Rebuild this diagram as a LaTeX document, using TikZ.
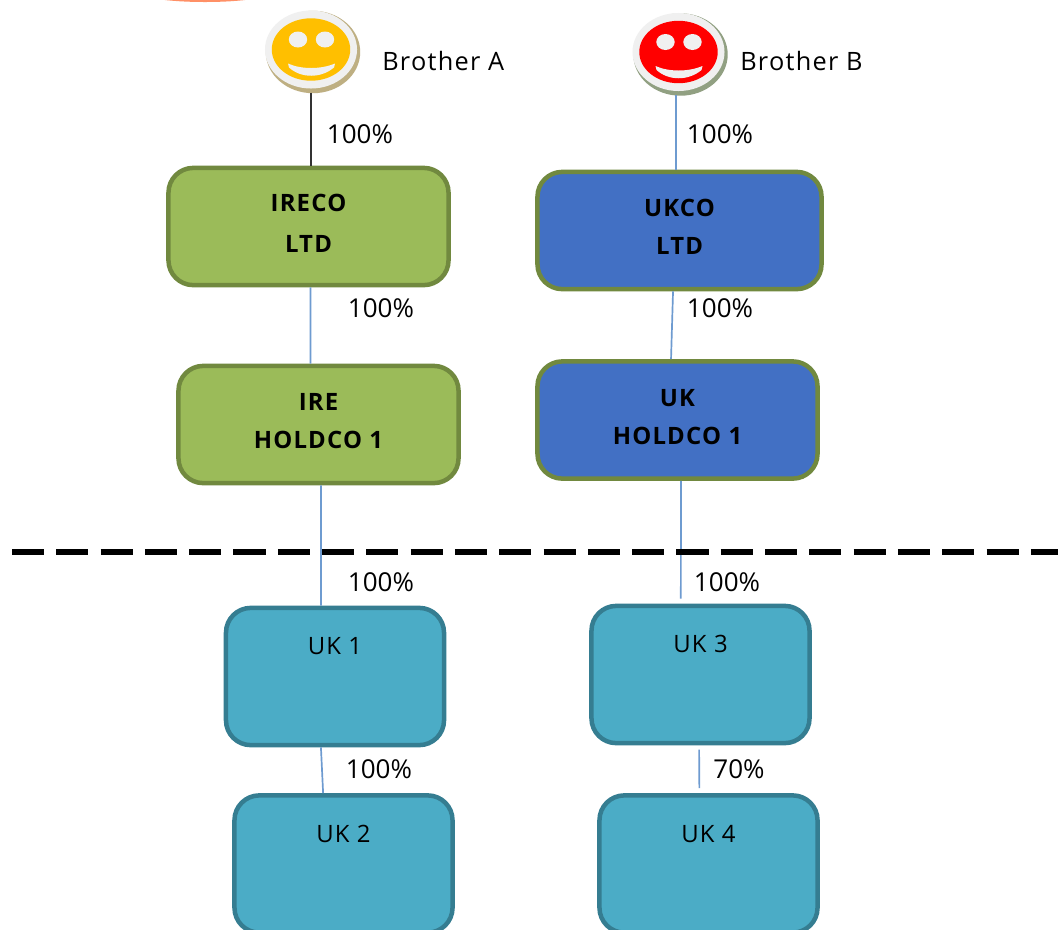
\documentclass[tikz,border=0pt]{standalone}
\usepackage{fontspec}
\setmainfont{Open Sans}
\newfontfamily\spacedfont[LetterSpace=5]{Open Sans}
\usepackage{xcolor}
\usetikzlibrary{shapes.geometric, positioning}
\definecolor{olivefill}{RGB}{155, 187, 89}
\definecolor{olivedraw}{RGB}{113, 137, 63}
\definecolor{bluefill}{RGB}{66, 112, 196}
\definecolor{tealfill}{RGB}{75, 172, 198}
\definecolor{tealdraw}{RGB}{53, 125, 145}
\definecolor{linkblue}{RGB}{110, 155, 208}
\definecolor{disc}{RGB}{240, 240, 240}
\definecolor{shadea}{RGB}{190, 175, 130}
\definecolor{shadeb}{RGB}{145, 160, 130}
\tikzset{
    company/.style={rectangle, rounded corners=0.62cm, minimum width=7cm, minimum height=2.93cm, line width=3.2pt, draw=olivedraw, fill=olivefill, align=center, text depth=0.16cm, font=\fontsize{17}{27}\spacedfont\bfseries},
    ukbox/.style={rectangle, rounded corners=0.62cm, minimum width=5.45cm, minimum height=3.43cm, line width=3.2pt, draw=tealdraw, fill=tealfill, font=\fontsize{17}{20}\spacedfont, text height=0.4cm, text depth=1.48cm},
    face/.style={ellipse, minimum width=2.3cm, minimum height=1.95cm, inner sep=0pt, fill=disc},
    link/.style={line width=1.2pt, draw=linkblue},
    pct/.style={font=\fontsize{18.5}{20}\selectfont, inner sep=0pt},
    namelabel/.style={font=\fontsize{18}{20}\spacedfont, inner sep=0pt}
}
% face details, drawn over the disc node
\newcommand{\facedetails}[2]{%
    \begin{scope}[shift={(#1)}]
        \fill[#2] (0,0) ellipse [x radius=0.98cm, y radius=0.78cm];
        \fill[disc] (-13,-10) ellipse [x radius=0.23cm, y radius=0.2cm];
        \fill[disc] (14,-10) ellipse [x radius=0.23cm, y radius=0.2cm];
        \fill[disc] (-23,14) .. controls (-10,20) and (10,20) .. (24,14) -- (23,18) .. controls (10,29) and (-10,29) .. (-22,18) -- cycle;
    \end{scope}}
\begin{document}
\begin{tikzpicture}[x=0.025cm, y=-0.025cm]
    \clip (0,0) rectangle (1058,929);
    \fill[white] (0,0) rectangle (1058,929);
    \fill[red!45!orange!60] (205,-8) ellipse [x radius=1.67cm, y radius=0.25cm];

    % Brothers
    \fill[shadea] (313,52) ellipse [x radius=1.18cm, y radius=1.03cm];
    \node[face] (brothera) at (311,49.5) {};
    \facedetails{brothera}{orange!50!yellow}
    \node[namelabel, anchor=west] (namea) at (382,61) {Brother A};

    \fill[shadeb] (680.5,54.5) ellipse [x radius=1.18cm, y radius=1.03cm];
    \node[face] (brotherb) at (678.5,52) {};
    \facedetails{brotherb}{red}
    \node[namelabel, anchor=west] (nameb) at (740,61) {Brother B};

    % Top companies
    \node[company, font=\fontsize{17}{29}\spacedfont\bfseries] (ireco) at (308.5,226.5) {IRECO\\LTD};
    \node[company, fill=bluefill, minimum width=7.1cm] (ukco) at (679.5,230.5) {UKCO\\LTD};
    \node[company] (ire) at (318.5,424.5) {IRE\\HOLDCO 1};
    \node[company, fill=bluefill] (ukhold) at (677.5,420) {UK\\HOLDCO 1};

    % Lower companies
    \node[ukbox] (uka) at (335,676.5) {UK 1};
    \node[ukbox] (ukb) at (343.5,864) {UK 2};
    \node[ukbox] (ukc) at (700.5,674.5) {UK 3};
    \node[ukbox] (ukd) at (708.5,864) {UK 4};

    % Connections
    \draw[link, draw=black!80, shorten <=2.8pt] (brothera.south) -- (brothera.south |- ireco.north);
    \draw[link, shorten <=2.8pt] ([xshift=-1.8pt]brotherb.south) -- ([xshift=-1.8pt]brotherb.south |- ukco.north);
    \draw[link] ([xshift=1.4pt]ireco.south) -- ([xshift=-5.7pt]ire.north);
    \draw[link] ([xshift=-4.6pt]ukco.south) -- ([xshift=-4.6pt]ukhold.north);
    \draw[link] ([xshift=1.8pt]ire.south) -- ([xshift=-10pt]uka.north);
    \draw[link] ([xshift=2.5pt]ukhold.south) -- ([xshift=-14pt, yshift=3.5pt]ukc.north);
    \draw[link] ([xshift=-10pt]uka.south) -- ([xshift=-14.5pt]ukb.north);
    \draw[link] ([xshift=-1pt, yshift=-3pt]ukc.south) -- ([xshift=-6.5pt, yshift=3.5pt]ukd.north);

    % Divider
    \coordinate (divleft) at (12,552);
    \coordinate (divright) at (1058,552);
    \draw[line width=4.4pt, dash pattern=on 22.8pt off 8.7pt] (divleft) -- (divright);

    % Percentages
    \node[pct] (pa) at (360,134) {100\%};
    \node[pct] (pb) at (720,134) {100\%};
    \node[pct] (pc) at (381,308) {100\%};
    \node[pct] (pd) at (720,308) {100\%};
    \node[pct] (pe) at (381,582) {100\%};
    \node[pct] (pf) at (727,582) {100\%};
    \node[pct] (pg) at (379,769) {100\%};
    \node[pct] (ph) at (739,769) {70\%};
\end{tikzpicture}
\end{document}
